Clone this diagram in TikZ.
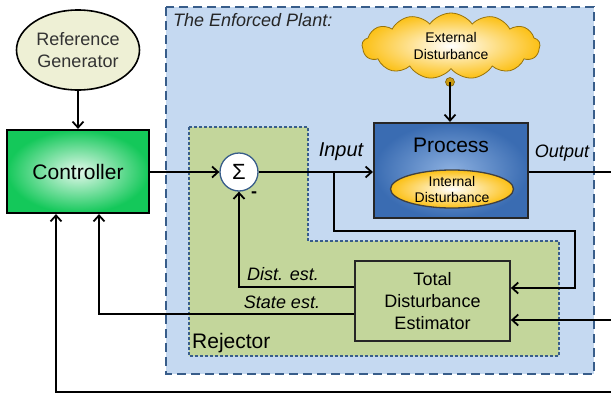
\documentclass[tikz,border=0pt]{standalone}
\usepackage{fontspec}
\setmainfont{Liberation Sans}
\usetikzlibrary{arrows.meta,shapes.geometric,shapes.symbols,calc}
\definecolor{plantblue}{RGB}{197,217,241}
\definecolor{rejgreen}{RGB}{195,214,155}
\definecolor{dashblue}{RGB}{56,93,138}
\definecolor{refcream}{RGB}{238,240,213}
\definecolor{ctrlgreen}{RGB}{20,200,90}
\definecolor{procblue}{RGB}{58,108,178}
\definecolor{procin}{RGB}{140,176,224}
\definecolor{dyellow}{RGB}{252,192,20}
\newcommand{\fs}[2]{\fontsize{#1}{#2}\selectfont}
\begin{document}
\begin{tikzpicture}[x=1pt,y=-1pt,
  conn/.style={line width=2.2pt,-{Straight Barb[length=6pt,width=11pt,line width=1.8pt]}},
  wire/.style={line width=2.2pt},
  lbl/.style={inner sep=0pt,font=\fs{18}{21}\itshape},
]
\useasboundingbox (0,0) rectangle (611,394);
% enforced plant region
\draw[fill=plantblue,draw=dashblue,line width=1.6pt,dash pattern=on 9pt off 5pt] (166,7) rectangle (594,374);
\node[anchor=west,inner sep=0pt,font=\fs{18}{21}\itshape,text=black!85] (title) at (173,20) {The Enforced Plant:};
% rejector region
\draw[fill=rejgreen,draw=dashblue,line width=1.1pt,dash pattern=on 3pt off 2pt]
  (189,127) -- (308,127) -- (308,241) -- (559,241) -- (559,356) -- (189,356) -- cycle;
\node[anchor=west,inner sep=0pt,font=\fs{21}{24}] (rej) at (192,343) {Rejector};

% nodes
\node[ellipse,draw=black,line width=1.6pt,fill=refcream,minimum width=123pt,minimum height=80pt,align=center,font=\fs{18}{22},text=black!80,inner sep=0pt] (ref) at (78,50) {Reference\\Generator};
\node[rectangle,draw=black,line width=2.2pt,inner color=ctrlgreen!12,outer color=ctrlgreen,minimum width=142pt,minimum height=83pt,font=\fs{21}{24}] (ctrl) at (78,171.5) {Controller};
\node[circle,draw=dashblue,line width=1.3pt,fill=white,minimum size=38pt,inner sep=0pt,font=\fs{22}{24}] (sum) at (239,172) {Σ};
\node[rectangle,draw=black!85,line width=2.2pt,inner color=procin,outer color=procblue,minimum width=154pt,minimum height=95pt] (proc) at (451,170.5) {};
\node[inner sep=0pt,font=\fs{21}{24}] (proclbl) at (451,145) {Process};
\node[ellipse,draw=black!75,line width=1.3pt,inner color=white,outer color=dyellow,minimum width=123pt,minimum height=38pt,align=center,font=\fs{14}{16},inner sep=0pt] (intd) at (452,189) {Internal\\Disturbance};
\node[cloud,cloud puffs=13,cloud puff arc=110,aspect=2.7,draw=dyellow!60!black,line width=0.8pt,inner color=white,outer color=dyellow,minimum width=178pt,minimum height=66pt,align=center,font=\fs{14}{17},inner sep=0pt] (cloud) at (451,46) {External\\Disturbance};
\node[circle,draw=dyellow!50!black,line width=0.6pt,fill=dyellow!80!black,minimum size=9pt,inner sep=0pt] (dot) at (450,82) {};
\node[rectangle,draw=black!85,line width=1.8pt,fill=rejgreen,minimum width=155pt,minimum height=80pt,align=center,font=\fs{18}{22}] (est) at (432.5,301) {Total\\Disturbance\\Estimator};

% coordinates
\coordinate (b1) at (334,172);
\coordinate (b2) at (575,231);
\coordinate (outR) at (611,172);
\coordinate (in2) at (611,320);
\coordinate (fb) at (611,392);

% connectors
\draw[conn] (ref.south) -- (ctrl.north);
\draw[conn] (ctrl.east |- sum.west) -- (sum.west);
\draw[conn] (sum.east) -- (proc.west |- sum.east);
\draw[conn] (dot.center) -- (dot |- proc.north);
\draw[wire] (proc.east |- outR) -- (outR);
\draw[conn] (b1) |- (b2) |- ([yshift=13pt]est.east);
\draw[conn] (in2) -- (est.east |- in2);
\draw[conn] ([yshift=14pt]est.west) -| (sum.south);
\draw[conn] ([yshift=-13pt]est.west) -| ([xshift=21pt]ctrl.south);
\draw[conn] (fb) -| ([xshift=-22pt]ctrl.south);

% labels
\node[lbl,font=\fs{20}{23}\itshape] (inlbl) at (341,152) {Input};
\node[lbl] (outlbl) at (562,153) {Output};
\node[lbl] (distlbl) at (283,274) {Dist. est.};
\node[lbl] (statelbl) at (282,302) {State est.};
\node[inner sep=0pt,font=\fs{18}{21}\bfseries] (minus) at (254,195) {-};
\end{tikzpicture}
\end{document}
